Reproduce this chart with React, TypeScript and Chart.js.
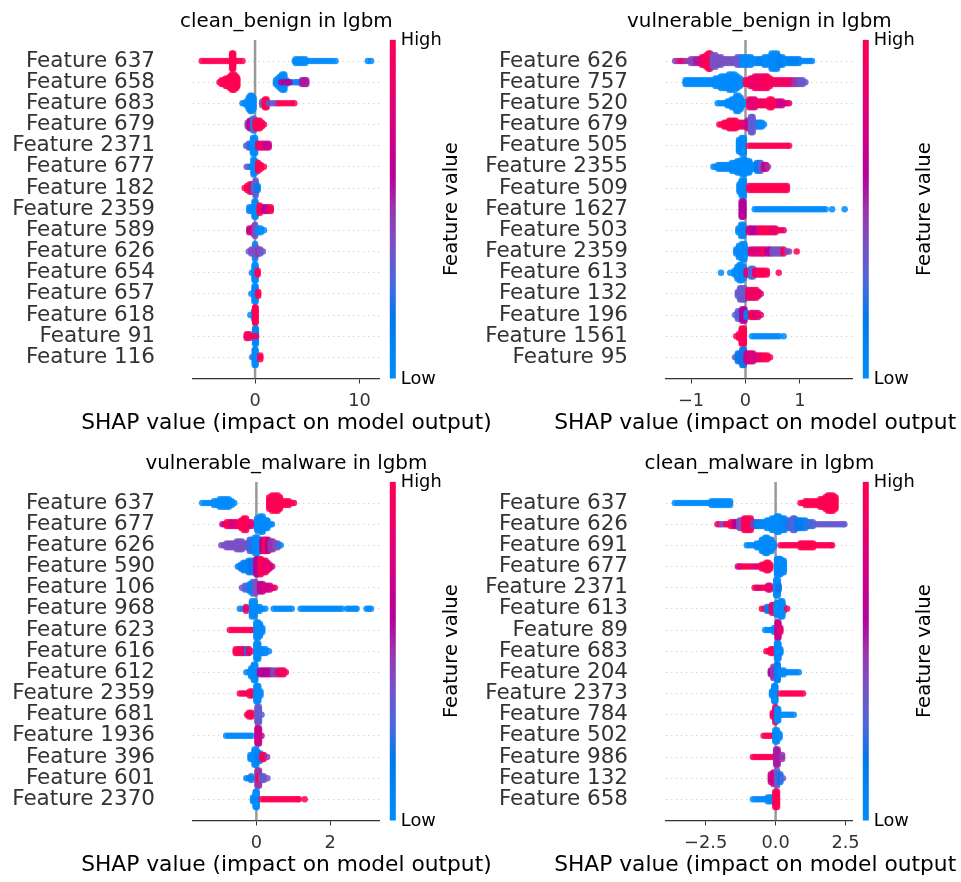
import React, { useEffect, useRef } from "react";
import { Chart, registerables } from "chart.js";

Chart.register(...registerables);

// A dot group: [stack half-height in layers, feature value 0..1, SHAP values]
type Group = [number, number, number[]];

const cleanBenignLabels = ["Feature 637","Feature 658","Feature 683","Feature 679","Feature 2371","Feature 677","Feature 182","Feature 2359","Feature 589","Feature 626","Feature 654","Feature 657","Feature 618","Feature 91","Feature 116"];
const vulnerableBenignLabels = ["Feature 626","Feature 757","Feature 520","Feature 679","Feature 505","Feature 2355","Feature 509","Feature 1627","Feature 503","Feature 2359","Feature 613","Feature 132","Feature 196","Feature 1561","Feature 95"];
const vulnerableMalwareLabels = ["Feature 637","Feature 677","Feature 626","Feature 590","Feature 106","Feature 968","Feature 623","Feature 616","Feature 612","Feature 2359","Feature 681","Feature 1936","Feature 396","Feature 601","Feature 2370"];
const cleanMalwareLabels = ["Feature 637","Feature 626","Feature 691","Feature 677","Feature 2371","Feature 613","Feature 89","Feature 683","Feature 204","Feature 2373","Feature 784","Feature 502","Feature 986","Feature 132","Feature 658"];

const cleanBenignRows: Group[][] = [
  [[0,1,[-5.1,-4.8,-4.5,-4.2,-3.9,-3.6,-3.3,-3,-2.7,-2.4,-2.1,-1.8,-1.5,-1.2]],[4,1,[-2.2,-2.1]],[1,0,[3.9,4.2,4.5,4.8]],[0,0,[3.8,5,5.3,5.6,5.9,6.2,6.5,6.8,7.1,7.4,7.7,10.8,11.1]]],
  [[0,1,[-3.4]],[1,1,[-3.2,-3]],[2,1,[-2.8,-2.6]],[3,1,[-2.4]],[4,1,[-2.2,-2]],[3,1,[-1.8]],[2,1,[-1.7]],[1,0,[2,3]],[2,0,[2.2]],[3,0,[2.4]],[4,0,[2.6,2.8]],[0,0,[3.2,3.5,3.8,4,4.2]],[0,.6,[2.5,2.8,3.1,3.3]],[1,.55,[4.5,4.7,4.9]]],
  [[0,0,[-1.2,-1]],[1,0,[-.8]],[3,0,[-.6]],[4,0,[-.45,-.3]],[3,0,[-.15]],[1,.4,[.7]],[2,1,[.95,1.1]],[0,.35,[1.3,1.6]],[0,.4,[1.9,2.1]],[0,1,[2.3,2.6,2.9,3.2,3.5,3.75]]],
  [[1,.45,[-.7]],[2,.6,[-.5]],[2,.7,[-.35]],[3,.4,[-.2]],[3,0,[-.1]],[2,1,[.05]],[2,1,[.25,.45]],[1,1,[.65]],[0,1,[.85]]],
  [[0,.3,[-.85]],[1,.3,[-.6]],[1,.2,[-.4]],[4,0,[-.2,0]],[1,.9,[.3,.55]],[1,.8,[.8]],[1,.7,[1.05,1.3]]],
  [[0,.35,[-.8,-.55]],[0,.1,[-.4]],[4,0,[-.15]],[3,0,[.05]],[2,1,[.3]],[1,1,[.55]],[0,1,[.85]]],
  [[0,1,[-1]],[1,1,[-.75]],[2,1,[-.5]],[2,.9,[-.3]],[2,0,[-.1]],[4,.35,[.05]],[1,.15,[.25]]],
  [[1,0,[-.55,-.3]],[4,0,[-.05,.05]],[2,1,[.45]],[1,.9,[.7]],[1,.6,[.95]],[1,.7,[1.2]],[1,.95,[1.5]]],
  [[1,.7,[-.55,-.3]],[2,.8,[-.1]],[3,.4,[0]],[1,0,[.3,.55]],[0,0,[.85]]],
  [[4,0,[0]],[0,.35,[-.6]],[1,.4,[-.35,-.1]],[2,.35,[.1]],[1,.5,[.3]],[1,.4,[.5]],[0,.35,[.75]]],
  [[0,.05,[-.3]],[4,0,[-.05,.05]],[1,1,[.25]]],
  [[0,0,[-.35]],[4,0,[-.05,.05]],[1,1,[.3]]],
  [[0,0,[-.45]],[2,0,[-.1]],[4,1,[0,.05]]],
  [[4,.05,[0,.08]],[1,.9,[-.8,-.55]],[0,.95,[-.3,-.1,.1]]],
  [[0,.2,[-.26]],[4,0,[-.03,.05]],[1,1,[.5]]],
];

const vulnerableBenignRows: Group[][] = [
  [[0,.5,[-1.29,-1.24]],[0,.9,[-1.19,-1.15]],[0,.5,[-1.1,-1.05]],[1,.45,[-1,-.95]],[1,.55,[-.9,-.85]],[2,.9,[-.8,-.76]],[3,.95,[-.72]],[4,1,[-.68,-.65]],[3,.4,[-.6,-.55]],[2,.4,[-.5,-.45]],[1,.4,[-.4,-.35,-.3,-.25,-.2]],[2,.35,[-.15,-.1]],[2,0,[-.05,0,.05,.1]],[1,0,[.15,.2]],[1,.1,[.25,.3]],[2,0,[.35,.4]],[4,.02,[.48,.53,.58]],[2,.1,[.63,.68]],[1,.05,[.73,.78]],[1,.1,[.83,.88,.93,.98]],[0,.05,[1.03,1.08,1.13,1.18,1.22]]],
  [[1,0,[-1.1,-1.05,-1,-.95,-.9,-.85,-.8,-.75,-.7,-.65,-.6]],[2,0,[-.55,-.5]],[3,0,[-.45,-.4,-.35]],[4,0,[-.3,-.25,-.2]],[3,0,[-.15]],[2,0,[-.1]],[1,0,[-.06]],[1,1,[.01,.05]],[2,.9,[.09,.13]],[3,.9,[.17,.22,.27,.32]],[3,.95,[.36,.4]],[2,1,[.45]],[1,.92,[.5,.55,.6,.65,.7,.75,.8,.85]],[1,.5,[.9,.95]],[1,.35,[1,1.05]],[0,.35,[1.1]]],
  [[0,0,[-.51,-.46,-.41,-.37]],[1,0,[-.33,-.29]],[2,0,[-.25,-.21]],[4,0,[-.17,-.13]],[3,0,[-.09]],[1,0,[-.05]],[2,.85,[.07,.12]],[2,.8,[.17]],[1,.9,[.22,.27,.31]],[1,.95,[.36,.4]],[2,1,[.44,.48]],[1,.95,[.52,.57]],[1,.7,[.62,.67]],[0,.75,[.72,.76]],[0,.85,[.8]]],
  [[0,1,[-.48,-.44]],[1,1,[-.39,-.35]],[2,1,[-.3,-.26,-.22,-.18]],[1,1,[-.14,-.1]],[1,.85,[-.05,0]],[2,.7,[.04]],[4,.35,[.1,.13]],[1,.3,[.18,.22]],[1,.03,[.26,.3]],[0,0,[.34]]],
  [[3,0,[-.12]],[4,0,[-.07,-.03]],[0,1,[.06,.11,.16,.21,.26,.31,.36,.41,.46,.51,.56,.61,.66,.71,.76,.8]]],
  [[0,0,[-.59,-.55]],[1,0,[-.5,-.45,-.4,-.35,-.3]],[2,0,[-.25,-.2]],[3,0,[-.15,-.1]],[4,0,[-.06,-.02]],[3,0,[.02,.07]],[1,0,[.12,.17]],[2,.15,[.21,.25]],[2,.3,[.28]],[1,.7,[.34,.38]],[0,.5,[.41]]],
  [[2,0,[-.11]],[4,0,[-.07,-.03]],[1,1,[.07,.12,.17,.22,.27,.32,.37,.42,.47,.52,.57,.62,.67,.72,.76]]],
  [[4,.6,[-.07,-.04]],[0,0,[.17,.22,.27,.32,.37,.42,.47,.52,.57,.62,.67,.72,.77,.82,.87,.92,.97,1.02,1.07,1.12,1.17,1.22,1.27,1.32,1.37,1.42,1.47,1.59,1.82]]],
  [[1,0,[-.13]],[3,0,[-.08,-.04]],[1,.7,[.06,.1]],[1,.6,[.15,.2]],[1,.9,[.25,.3]],[1,1,[.35,.4,.45]],[1,.85,[.5,.55]],[0,.95,[.6,.65]],[0,.8,[.7]]],
  [[1,0,[-.17]],[3,0,[-.12]],[4,0,[-.06,-.02]],[1,0,[.03]],[1,.8,[.1,.15,.2,.25,.3]],[1,1,[.34]],[1,.6,[.4,.45]],[1,.4,[.5,.55,.6,.65]],[1,.95,[.7]],[0,.45,[.76,.8]],[0,1,[.94]]],
  [[0,0,[-.45,-.28]],[1,0,[-.2]],[3,0,[-.15]],[4,0,[-.11,-.07]],[3,0,[-.03]],[1,.8,[.02,.06]],[2,.3,[.1,.14]],[1,.9,[.18,.22]],[1,1,[.26,.3,.34,.39]],[0,1,[.61]]],
  [[1,.35,[-.14]],[3,.35,[-.1,-.06,-.02]],[2,.9,[.05,.1,.15]],[2,.95,[.2]],[1,.9,[.24]],[0,.8,[.28]]],
  [[0,.3,[-.19]],[2,.3,[-.14,-.1]],[3,.6,[-.06,-.02]],[1,.1,[.02]],[1,.95,[.1,.14]],[1,.85,[.18,.23]],[0,.85,[.28]]],
  [[0,1,[-.17]],[1,1,[-.12]],[4,1,[-.07,-.03]],[0,0,[.12,.17,.22,.27,.32,.37,.42,.47,.52,.57,.62,.7]]],
  [[0,.35,[-.19]],[2,.2,[-.14,-.1]],[4,.2,[-.06,-.03]],[2,.7,[.02,.06]],[2,.8,[.1,.14]],[1,.75,[.18,.22]],[1,.9,[.26,.3]],[1,1,[.35,.4]],[0,1,[.45]]],
];

const vulnerableMalwareRows: Group[][] = [
  [[0,0,[-1.47,-1.39,-1.31,-1.23]],[1,0,[-1.15,-1.07]],[2,0,[-.99,-.91,-.83,-.75]],[1,0,[-.67]],[0,0,[-.6]],[3,1,[.35]],[4,1,[.43,.51,.58]],[3,1,[.64]],[1,1,[.72,.8,.88]],[0,1,[.96,1.02]]],
  [[0,.65,[-.92,-.85]],[1,1,[-.8,-.73]],[1,.75,[-.67,-.6]],[1,.85,[-.54,-.47]],[2,1,[-.41]],[3,1,[-.34,-.28]],[1,.85,[-.2,-.13]],[3,0,[.02]],[4,0,[.1,.17]],[2,0,[.25,.3]],[0,0,[.38,.42]]],
  [[0,.4,[-.95,-.88]],[1,.4,[-.81,-.74,-.67,-.6]],[2,.4,[-.53,-.46,-.39]],[1,.4,[-.32,-.25]],[3,.25,[-.18,-.11]],[4,0,[-.04,.03]],[3,0,[.1]],[3,.6,[.17]],[3,1,[.23,.26]],[3,.6,[.32]],[2,.5,[.39,.45]],[1,.4,[.52,.58]],[0,.1,[.66]]],
  [[0,.15,[-.5]],[1,.1,[-.42]],[2,.1,[-.35,-.28]],[3,.1,[-.21]],[3,.2,[-.14,-.07]],[4,.6,[0,.05]],[4,1,[.12]],[3,1,[.18]],[3,.85,[.25]],[2,.85,[.3]],[1,.9,[.36]],[0,.7,[.43]]],
  [[0,.35,[-.39]],[1,.3,[-.31,-.24]],[2,.1,[-.17]],[3,.1,[-.1]],[3,.4,[-.03]],[2,.4,[.03]],[2,.7,[.1,.17]],[1,.75,[.24,.3,.37]],[0,.75,[.44]],[0,.9,[.5]]],
  [[0,0,[-.45,-.38]],[1,.9,[-.28]],[4,0,[-.12,-.05]],[1,0,[.02,.09]],[0,0,[.16,.24,.47,.54,.61,.68,.75,.82,.89,.96,1.2,1.27,1.34,1.41,1.48,1.55,1.62,1.69,1.76,1.83,1.9,1.97,2.04,2.11,2.18,2.25,2.32,2.46,2.53,2.6,2.67,2.72,2.99,3.05,3.11]]],
  [[0,1,[-.72,-.65,-.58,-.51,-.44,-.37,-.3,-.23,-.16,-.12]],[4,0,[0,.05]],[3,0,[.1]],[1,0,[.16]]],
  [[1,1,[-.56,-.5]],[1,.9,[-.43,-.37]],[1,.85,[-.32]],[1,.15,[-.25]],[1,.85,[-.2]],[0,.95,[-.14]],[4,0,[0,.05]],[1,0,[.12,.18,.25]],[0,0,[.34]]],
  [[0,0,[-.27,-.2]],[2,0,[-.14]],[4,0,[-.07,-.03]],[1,.6,[.1,.17,.24,.31,.38]],[1,.45,[.45,.52]],[1,.9,[.6,.67,.74]],[0,1,[.8]]],
  [[0,1,[-.45,-.38]],[0,.9,[-.32,-.25]],[1,1,[-.18,-.12]],[4,0,[0,.05]],[1,0,[.11]]],
  [[0,1,[-.25]],[1,1,[-.2,-.13]],[4,.35,[.03,.07]],[0,.3,[.14]]],
  [[0,0,[-.82,-.75,-.68,-.61,-.54,-.47,-.4,-.33,-.26,-.19,-.12]],[4,.7,[.03,.07]],[0,.7,[.14]]],
  [[1,0,[-.16,-.1]],[4,0,[-.05,0]],[2,.1,[.05,.1]],[1,.95,[.16,.2]],[0,.5,[.29]]],
  [[0,.1,[-.27,-.2]],[1,.1,[-.14]],[4,.5,[.03,.07]],[1,1,[.07]],[1,.35,[.14,.2]],[0,.4,[.3]]],
  [[1,0,[-.09]],[4,0,[-.02,.01]],[0,1,[.14,.21,.28,.35,.42,.49,.56,.63,.7,.77,.84,.91,.98,1.05,1.12,1.15,1.31]]],
];

const cleanMalwareRows: Group[][] = [
  [[0,0,[-3.6,-3.49,-3.38,-3.27,-3.16,-3.05,-2.94,-2.83,-2.72,-2.61,-2.5,-2.4]],[1,0,[-2.29,-2.18,-2.07,-1.96,-1.85,-1.74,-1.63]],[0,1,[.89,.98]],[1,1,[1.07,1.18,1.29,1.4,1.51]],[2,1,[1.6,1.69]],[3,1,[1.78]],[4,1,[1.87,1.96,2.05]],[3,1,[2.14]]],
  [[0,.95,[-2.08,-2]],[0,.4,[-1.93,-1.85]],[0,.95,[-1.77,-1.69]],[1,1,[-1.6,-1.52]],[1,.6,[-1.45,-1.37]],[2,.4,[-1.29,-1.21]],[3,.95,[-1.12,-1.04]],[3,1,[-.97,-.89]],[1,.5,[-.81,-.74]],[1,.1,[-.67,-.58]],[1,.05,[-.49,-.4]],[2,0,[-.31,-.22]],[3,0,[-.13,-.05]],[4,0,[.05,.12]],[3,.05,[.23,.32]],[1,.1,[.41]],[2,.25,[.48,.55]],[3,.3,[.62,.68]],[2,.15,[.77,.86,.95]],[2,.1,[1.06]],[1,.25,[1.15,1.24,1.33]],[0,.35,[1.42,1.51,1.6,1.69,1.78,1.87,1.96,2.05,2.14,2.23,2.32,2.41,2.46]]],
  [[0,0,[-1.03,-.94,-.85,-.76]],[1,0,[-.67,-.58]],[3,0,[-.49,-.43]],[4,0,[-.37,-.3]],[3,0,[-.22,-.15]],[1,0,[-.07]],[0,1,[.17,.26,.35,.44,.53,.62,.71,.8]],[1,1,[.89,.98,1.07,1.16,1.25,1.34]],[0,1,[1.43,1.52,1.61,1.7,1.79,1.88,1.97,2.02]]],
  [[0,.7,[-1.35,-1.28]],[0,1,[-1.21,-1.12,-1.03,-.94]],[0,.9,[-.85,-.76]],[0,.8,[-.67,-.58]],[1,1,[-.49,-.42]],[2,1,[-.33,-.26]],[1,1,[-.19]],[4,0,[.05,.11,.17]],[3,0,[.23,.29]]],
  [[0,1,[-.75,-.68]],[0,.8,[-.61,-.52]],[0,1,[-.43,-.36]],[1,.85,[-.27,-.2]],[4,0,[.02,.08]],[1,.2,[.11]]],
  [[0,1,[-.49,-.4]],[1,.2,[-.31,-.22]],[2,.9,[-.13,-.05]],[3,0,[.03,.1]],[4,0,[.17,.24]],[1,0,[.3]],[0,1,[.41]]],
  [[0,0,[-.37,-.28,-.19,-.12]],[1,0,[-.05]],[4,.7,[.07,.1]],[1,.85,[.17]]],
  [[0,1,[-.33,-.25]],[1,1,[-.17,-.1]],[4,0,[.05,.1]],[1,0,[.17]]],
  [[1,.6,[-.17]],[3,.5,[-.08]],[4,.1,[.05,.08]],[1,0,[.18,.29]],[0,0,[.38,.47,.56,.65,.74,.83]]],
  [[1,0,[-.13]],[4,0,[-.05,-.01]],[0,1,[.17,.26,.35,.44,.53,.62,.71,.8,.89,.98]]],
  [[1,.9,[-.1]],[4,.9,[-.01]],[3,0,[.05,.09]],[0,0,[.18,.27,.36,.45,.54,.65]]],
  [[0,1,[-.43,-.34,-.25,-.16,-.08]],[3,0,[-.01,.05]],[1,0,[.14]]],
  [[0,1,[-.81,-.72,-.63,-.54,-.45,-.36,-.27,-.18,-.1]],[4,.55,[.02,.07]],[1,.5,[.23]]],
  [[2,.75,[-.17]],[3,.7,[-.08]],[4,.35,[.05]],[2,.2,[.17]],[0,.3,[.26]]],
  [[0,0,[-.81,-.72,-.63,-.54,-.45,-.36]],[1,0,[-.28,-.2,-.13]],[4,1,[-.01,.05]]],
];

const cleanBenignTicks = [0, 10];
const cleanBenignTickLabels = ["0", "10"];
const vulnerableBenignTicks = [-1, 0, 1];
const vulnerableBenignTickLabels = ["\u22121", "0", "1"];
const vulnerableMalwareTicks = [0, 2];
const vulnerableMalwareTickLabels = ["0", "2"];
const cleanMalwareTicks = [-2.5, 0, 2.5];
const cleanMalwareTickLabels = ["\u22122.5", "0.0", "2.5"];

const FONT = "'DejaVu Sans'";
const LAYER = 0.09;
const rampStops: [number, string][] = [[0,"#008bfb"],[0.05,"#0088f8"],[0.18,"#0078ee"],[0.28,"#4a68de"],[0.4,"#7a50c4"],[0.5,"#9a35ac"],[0.6,"#b4009a"],[0.75,"#d60083"],[0.88,"#ee0068"],[1,"#ff0052"]];

function colorAt(v: number, alpha: number) {
  let i = 0;
  while (i < rampStops.length - 2 && v > rampStops[i + 1][0]) i++;
  const [a, ca] = rampStops[i];
  const [b, cb] = rampStops[i + 1];
  const t = Math.min(1, Math.max(0, (v - a) / (b - a)));
  const p = (s: string, k: number) => parseInt(s.slice(k, k + 2), 16);
  const m = (k: number) => Math.round(p(ca, k) + (p(cb, k) - p(ca, k)) * t);
  return `rgba(${m(1)},${m(3)},${m(5)},${alpha})`;
}

// Chart.js squeezes titles to the plot width; the reference's are wider, so let them run free.
const wideTitles = {
  id: "wideTitles",
  beforeDraw(chart: any) {
    const { chartArea, titleBlock, scales } = chart;
    titleBlock.left = chartArea.left - 150;
    titleBlock.right = chartArea.right + 150;
    const s = scales.x;
    if (!s.$wide) {
      s.$wide = true;
      const orig = s.drawTitle;
      s.drawTitle = function (...a: any[]) {
        const { left, right } = this;
        this.left = left - 150;
        this.right = right + 150;
        orig.apply(this, a);
        this.left = left;
        this.right = right;
      };
    }
  },
};

const colorbar = {
  id: "colorbar",
  afterDraw(chart: any) {
    const { ctx, chartArea } = chart;
    const x = chartArea.right + 10;
    const { top, bottom } = chartArea;
    const g = ctx.createLinearGradient(0, bottom, 0, top);
    rampStops.forEach(([s, c]) => g.addColorStop(s, c));
    ctx.save();
    ctx.fillStyle = g;
    ctx.fillRect(x, top, 6, bottom - top);
    ctx.fillStyle = "#000";
    ctx.textAlign = "left";
    ctx.textBaseline = "middle";
    ctx.font = `17.8px ${FONT}`;
    ctx.fillText("High", x + 11, top + 1);
    ctx.fillText("Low", x + 11, bottom + 1);
    ctx.font = `19.6px ${FONT}`;
    ctx.translate(x + 62, (top + bottom) / 2);
    ctx.rotate(-Math.PI / 2);
    ctx.textAlign = "center";
    ctx.fillText("Feature value", 0, 0);
    ctx.restore();
  },
};

type PanelProps = { title: string; labels: string[]; rows: Group[][]; ticks: number[]; tickLabels: string[]; min: number; max: number; left: number; top: number; width: number; };

function Panel({ title, labels, rows, ticks, tickLabels, min, max, left, top, width }: PanelProps) {
  const ref = useRef<HTMLCanvasElement>(null);
  useEffect(() => {
    const pts: { x: number; y: number }[] = [];
    const cols: string[] = [];
    rows.forEach((row, i) => {
      const yc = rows.length - 1 - i;
      row.forEach(([n, c, xs]) => {
        xs.forEach((x) => {
          for (let k = -n; k <= n; k++) {
            pts.push({ x, y: yc + k * LAYER });
            cols.push(colorAt(c, 0.85));
          }
        });
      });
    });
    const chart = new Chart(ref.current!, {
      type: "scatter",
      data: {
        datasets: [
          { data: pts, pointRadius: 3.25, pointHoverRadius: 3.25, pointBorderWidth: 0, pointBackgroundColor: cols, order: 1 } as any,
          { data: [{ x: 0, y: -1 }, { x: 0, y: 15 }], showLine: true, borderColor: "#999999", borderWidth: 2.5, pointRadius: 0, order: 2 } as any,
        ],
      },
      options: {
        animation: false,
        responsive: false,
        events: [],
        layout: { padding: { left: 0, top: 0, bottom: 0, right: width - 193 - 186.8 } },
        plugins: {
          legend: { display: false },
          tooltip: { enabled: false },
          title: { display: true, text: title, color: "#000", font: { family: FONT, size: 19.9, weight: "normal", lineHeight: 1.2 }, padding: { top: 10, bottom: 6 } } as any,
        },
        scales: {
          x: {
            type: "linear", min, max,
            afterBuildTicks: (s: any) => { s.ticks = ticks.map((value) => ({ value })); },
            afterFit: (s: any) => { s.height = 62.5; },
            ticks: { autoSkip: false, maxRotation: 0, color: "#333333", font: { family: FONT, size: 17.8 }, padding: 7, callback: (v: any) => tickLabels[ticks.indexOf(v)] ?? "" },
            grid: { drawOnChartArea: false, drawTicks: true, tickLength: 5, tickColor: "#333333", tickWidth: 1 },
            border: { display: true, color: "#333333", width: 1.3 },
            title: { display: true, text: "SHAP value (impact on model output)", color: "#000", font: { family: FONT, size: 21.75, lineHeight: 1.2 }, padding: { top: 0, bottom: 5 } },
          },
          y: {
            type: "linear", min: -1, max: 15,
            afterBuildTicks: (s: any) => { s.ticks = labels.map((_, i) => ({ value: i })); },
            afterFit: (s: any) => { s.width = 193; s.paddingTop = 0; s.paddingBottom = 0; },
            ticks: { autoSkip: false, color: "#333333", font: { family: FONT, size: 21.5 }, padding: 38, callback: (v: any) => labels[labels.length - 1 - v] ?? "" },
            grid: { drawTicks: false, color: "#cccccc", lineWidth: 1 },
            border: { display: false, dash: [1.2, 3.8] },
          },
        },
      },
      plugins: [wideTitles, colorbar],
    } as any);
    return () => chart.destroy();
  }, []);
  return <canvas ref={ref} width={width} height={441} style={{ position: "absolute", left, top, display: "block" }} />;
}

export default function App() {
  return (
    <div style={{ position: "fixed", left: 0, top: 0, width: 961, height: 882, overflow: "hidden", background: "#fff" }}>
      <Panel title="clean_benign in lgbm" labels={cleanBenignLabels} rows={cleanBenignRows} ticks={cleanBenignTicks} tickLabels={cleanBenignTickLabels} min={-5.94} max={11.94} left={0} top={0} width={500} />
      <Panel title="vulnerable_benign in lgbm" labels={vulnerableBenignLabels} rows={vulnerableBenignRows} ticks={vulnerableBenignTicks} tickLabels={vulnerableBenignTickLabels} min={-1.46} max={1.97} left={473} top={0} width={484} />
      <Panel title="vulnerable_malware in lgbm" labels={vulnerableMalwareLabels} rows={vulnerableMalwareRows} ticks={vulnerableMalwareTicks} tickLabels={vulnerableMalwareTickLabels} min={-1.72} max={3.35} left={0} top={442} width={500} />
      <Panel title="clean_malware in lgbm" labels={cleanMalwareLabels} rows={cleanMalwareRows} ticks={cleanMalwareTicks} tickLabels={cleanMalwareTickLabels} min={-3.92} max={2.76} left={473} top={442} width={484} />
    </div>
  );
}
